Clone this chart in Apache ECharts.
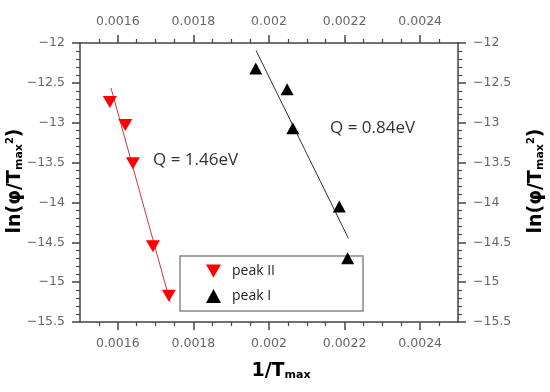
<!DOCTYPE html>
<html>
<head>
<meta charset="utf-8">
<script src="https://cdn.jsdelivr.net/npm/echarts@6/dist/echarts.min.js"></script>
<style>html,body{margin:0;padding:0;background:#fff}#c{width:550px;height:392px}</style>
</head>
<body>
<div id="c"></div>
<script>
// ---- data ----
var peakII_x = [0.001579, 0.001620, 0.001640, 0.001693, 0.001735];
var peakII_y = [-12.74, -13.03, -13.51, -14.55, -15.17];
var peakI_x = [0.001965, 0.002048, 0.002063, 0.002186, 0.002208];
var peakI_y = [-12.32, -12.58, -13.07, -14.05, -14.70];
var fitII_x = [0.001582, 0.0017385];
var fitII_y = [-12.565, -15.246];
var fitI_x = [0.001966, 0.00221];
var fitI_y = [-12.097, -14.45];
var xMajorTicks = [0.0016, 0.0018, 0.002, 0.0022, 0.0024];
var xMinorTicks = [0.00155, 0.00165, 0.0017, 0.00175, 0.00185, 0.0019, 0.00195, 0.00205, 0.0021, 0.00215, 0.00225, 0.0023, 0.00235, 0.00245];
var yLabels = [-15.5, -15, -14.5, -14, -13.5, -13, -12.5, -12];
var seriesNames = ['peak II', 'peak I'];
var annotations = ['Q = 1.46eV', 'Q = 0.84eV'];

function zip(a, b) { return a.map(function (v, i) { return [v, b[i]]; }); }

var axisCol = '#444';
var labCol = '#666';
var downTri = 'path://M0,0 L10,0 L5,8.7 Z';

function xMajor(pos) {
  return {
    type: 'value', position: pos, min: 0.0015, max: 0.0025, gridIndex: 0,
    axisLine: { show: true, onZero: false, lineStyle: { color: axisCol, width: 1.5 } },
    axisTick: { show: true, customValues: xMajorTicks, length: 8, lineStyle: { color: axisCol, width: 1.5 } },
    axisLabel: { show: true, customValues: xMajorTicks, margin: 15, color: labCol, fontSize: 12.5, fontFamily: 'DejaVu Sans',
      formatter: function (v) { return String(+v.toPrecision(6)); } },
    splitLine: { show: false }
  };
}
function xMinor(pos) {
  return {
    type: 'value', position: pos, min: 0.0015, max: 0.0025, gridIndex: 0,
    axisLine: { show: false, onZero: false },
    axisTick: { show: true, customValues: xMinorTicks, length: 4, lineStyle: { color: axisCol, width: 1.2 } },
    axisLabel: { show: false },
    splitLine: { show: false }
  };
}
function yAx(pos) {
  return {
    type: 'value', position: pos, min: -15.5, max: -12, interval: 0.5, gridIndex: 0,
    axisLine: { show: true, onZero: false, lineStyle: { color: axisCol, width: 1.5 } },
    axisTick: { show: true, length: 8, lineStyle: { color: axisCol, width: 1.5 } },
    minorTick: { show: true, splitNumber: 5, length: 4, lineStyle: { color: axisCol, width: 1.2 } },
    axisLabel: { show: true, margin: 15, color: labCol, fontSize: 12.5, fontFamily: 'DejaVu Sans',
      customValues: yLabels,
      formatter: function (v) { return String(v).replace('-', '\u2212'); } },
    splitLine: { show: false }
  };
}

var titleRich = {
  a: { fontSize: 19, fontWeight: 'bold', fontFamily: 'DejaVu Sans', color: '#111' },
  b: { fontSize: 11, fontWeight: 'bold', fontFamily: 'DejaVu Sans', color: '#111', padding: [9, 0, 0, 0] },
  c: { fontSize: 10, fontWeight: 'bold', fontFamily: 'DejaVu Sans', color: '#111', padding: [0, 0, 10, 0] }
};

var chart = echarts.init(document.getElementById('c'), null, { renderer: 'canvas' });
chart.setOption({
  backgroundColor: '#fff',
  animation: false,
  grid: { left: 80, right: 92, top: 43, bottom: 70 },
  xAxis: [xMajor('bottom'), xMinor('bottom'), xMajor('top'), xMinor('top')],
  yAxis: [yAx('left'), yAx('right')],
  legend: {
    orient: 'vertical', left: 180, top: 256, z: 1,
    data: [{ name: seriesNames[0], icon: downTri }, { name: seriesNames[1], icon: 'triangle' }],
    itemWidth: 15, itemHeight: 14, itemGap: 11,
    padding: [8, 88, 8, 26],
    borderColor: '#888', borderWidth: 1.5, backgroundColor: '#fff',
    textStyle: { fontFamily: 'Open Sans', fontSize: 14, color: '#222', padding: [0, 0, 0, 6] }
  },
  series: [
    { type: 'line', name: 'fitII', data: zip(fitII_x, fitII_y), xAxisIndex: 0, yAxisIndex: 0,
      showSymbol: false, symbol: 'none', lineStyle: { color: '#c83a3a', width: 1 }, z: 5 },
    { type: 'line', name: 'fitI', data: zip(fitI_x, fitI_y), xAxisIndex: 0, yAxisIndex: 0,
      showSymbol: false, symbol: 'none', lineStyle: { color: '#333', width: 1 }, z: 5 },
    { type: 'scatter', name: seriesNames[0], data: zip(peakII_x, peakII_y), xAxisIndex: 0, yAxisIndex: 0,
      symbol: downTri, symbolSize: [14, 12], itemStyle: { color: '#ff0000', opacity: 1 }, z: 6 },
    { type: 'scatter', name: seriesNames[1], data: zip(peakI_x, peakI_y), xAxisIndex: 0, yAxisIndex: 0,
      symbol: 'triangle', symbolSize: [13, 12], itemStyle: { color: '#000', opacity: 1 }, z: 6 }
  ],
  graphic: [
    { type: 'text', x: 153, y: 160, z: 10, style: { text: annotations[0], fill: '#333', font: '17px "Open Sans"', verticalAlign: 'middle', align: 'left' } },
    { type: 'text', x: 330, y: 128, z: 10, style: { text: annotations[1], fill: '#333', font: '17px "Open Sans"', verticalAlign: 'middle', align: 'left' } },
    { type: 'text', x: 281, y: 371, z: 10, style: {
        text: '{a|1/T}{b|max}', align: 'center', verticalAlign: 'middle', rich: titleRich } },
    { type: 'text', x: 15, y: 181, rotation: Math.PI / 2, z: 10, style: {
        text: '{a|ln(\u03c6/T}{b|max}{c|2}{a|)}', align: 'center', verticalAlign: 'middle', rich: titleRich } },
    { type: 'text', x: 536, y: 181, rotation: Math.PI / 2, z: 10, style: {
        text: '{a|ln(\u03c6/T}{b|max}{c|2}{a|)}', align: 'center', verticalAlign: 'middle', rich: titleRich } }
  ]
});
</script>
</body>
</html>
